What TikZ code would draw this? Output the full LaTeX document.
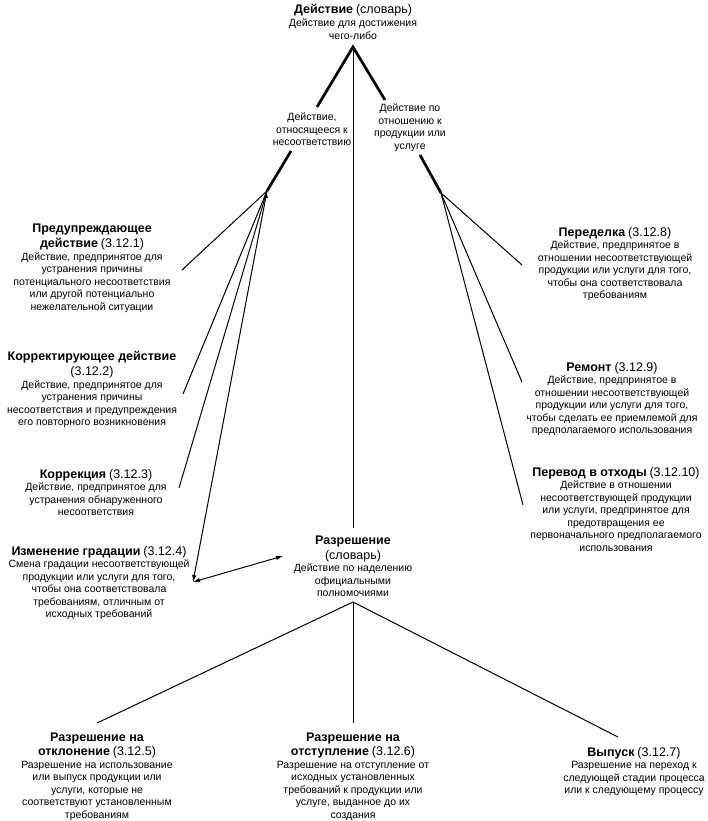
\documentclass[tikz,border=0pt]{standalone}
\usepackage{fontspec}
\setmainfont{Liberation Sans}
\usetikzlibrary{arrows.meta}
\usetikzlibrary{positioning}
\usetikzlibrary{calc}
\tikzstyle{term} = [align=center, inner sep=0pt, anchor=north,
font=\fontsize{10.5}{12.5}\selectfont]
\tikzstyle{stem} = [line width=2.7pt]
\tikzstyle{twig} = [line width=1pt]
\newcommand{\hd}[1]{{\fontsize{12.5}{15}\selectfont\bfseries #1}}
\newcommand{\rf}[1]{{\fontsize{12.5}{15}\selectfont #1}}
\newcommand{\fan}[3][]{ %
  % Connect hub #2 to all ends #3.
  \foreach \y in {#3} { %
    \draw [twig, #1] (#2) -- (\y) ;%
  } ;
}

\begin{document}
\begin{tikzpicture}[x=1pt, y=-1pt]
  \useasboundingbox (0,0) rectangle (708,821);
  % top term
  \node[term] (act) at (353,4) {\hd{Действие} \rf{(словарь)}\\[1pt]
    Действие для достижения\\ чего-либо};
  % branch terms
  \node[term] (nonconf) at (312,113) {Действие,\\ относящееся к\\ несоответствию};
  \node[term] (prod) at (410,104) {Действие по\\ отношению к\\ продукции или\\ услуге};
  % left terms
  \node[term] (prev) at (92,224) {\hd{Предупреждающее}\\[2.5pt]
    \hd{действие} \rf{(3.12.1)}\\ Действие, предпринятое для\\ устранения причины\\
    потенциального несоответствия\\ или другой потенциально\\ нежелательной ситуации};
  \node[term] (corr) at (92,351) {\hd{Корректирующее действие}\\[2.5pt]
    \rf{(3.12.2)}\\ Действие, предпринятое для\\ устранения причины\\
    несоответствия и предупреждения\\ его повторного возникновения};
  \node[term] (fix) at (96,469) {\hd{Коррекция} \rf{(3.12.3)}\\
    Действие, предпринятое для\\ устранения обнаруженного\\ несоответствия};
  \node[term] (regrade) at (99,546) {\hd{Изменение градации} \rf{(3.12.4)}\\
    Смена градации несоответствующей\\ продукции или услуги для того,\\
    чтобы она соответствовала\\ требованиям, отличным от\\ исходных требований};
  % right terms
  \node[term] (rework) at (615,227) {\hd{Переделка} \rf{(3.12.8)}\\
    Действие, предпринятое в\\ отношении несоответствующей\\
    продукции или услуги для того,\\ чтобы она соответствовала\\ требованиям};
  \node[term] (repair) at (612,362) {\hd{Ремонт} \rf{(3.12.9)}\\
    Действие, предпринятое в\\ отношении несоответствующей\\
    продукции или услуги для того,\\ чтобы сделать ее приемлемой для\\
    предполагаемого использования};
  \node[term] (scrap) at (616,467) {\hd{Перевод в отходы} \rf{(3.12.10)}\\
    Действие в отношении\\ несоответствующей продукции\\
    или услуги, предпринятое для\\ предотвращения ее\\
    первоначального предполагаемого\\ использования};
  % permission
  \node[term] (perm) at (353,536) {\hd{Разрешение}\\[2pt] \rf{(словарь)}\\
    Действие по наделению\\ официальными\\ полномочиями};
  % bottom terms
  \node[term] (waiver) at (97,733) {\hd{Разрешение на}\\[1.5pt]
    \hd{отклонение} \rf{(3.12.5)}\\ Разрешение на использование\\
    или выпуск продукции или\\ услуги, которые не\\
    соответствуют установленным\\ требованиям};
  \node[term] (deviat) at (353,733) {\hd{Разрешение на}\\[1.5pt]
    \hd{отступление} \rf{(3.12.6)}\\ Разрешение на отступление от\\
    исходных установленных\\ требований к продукции или\\
    услуге, выданное до их\\ создания};
  \node[term] (release) at (634,747) {\hd{Выпуск} \rf{(3.12.7)}\\
    Разрешение на переход к\\ следующей стадии процесса\\ или к следующему процессу};

  % ends
  \coordinate (actTip) at (353,47);
  \coordinate (nonTop) at (317,107);
  \coordinate (prodTop) at (385,100);
  \coordinate (nonFoot) at (291,151);
  \coordinate (nonHub) at (267,191);
  \coordinate (prodFoot) at (420,155);
  \coordinate (prodHub) at (441,193);
  \coordinate (prevEnd) at (182,270);
  \coordinate (corrEnd) at (183,394);
  \coordinate (fixEnd) at (179,488);
  \coordinate (regEnd) at (193,582);
  \coordinate (permEnd) at (283,556);
  \coordinate (permTop) at (353,528);
  \coordinate (permTip) at (353,602);
  \coordinate (waivEnd) at (97,723);
  \coordinate (devEnd) at (353,723);
  \coordinate (relEnd) at (618,737);
  \coordinate (rewEnd) at (522,265);
  \coordinate (repEnd) at (522,382);
  \coordinate (scrEnd) at (523,505);

  % edges
  \draw[stem] (nonTop) -- (actTip) -- (prodTop);
  \draw[twig] (actTip) -- (permTop);
  \draw[stem] (nonFoot) -- (nonHub);
  \draw[stem] (prodFoot) -- (prodHub);
  % left fan
  \fan {nonHub} {prevEnd, corrEnd, fixEnd}
  \fan[{Latex[length=7pt,width=4.5pt]}-{Latex[length=7pt,width=4.5pt]}] {nonHub} {regEnd}
  \fan[{Latex[length=7pt,width=4.5pt]}-{Latex[length=7pt,width=4.5pt]}] {regEnd} {permEnd}
  % right fan
  \fan {prodHub} {rewEnd, repEnd, scrEnd}
  % permission fan
  \fan {permTip} {waivEnd, devEnd, relEnd}
\end{tikzpicture}
\end{document}
